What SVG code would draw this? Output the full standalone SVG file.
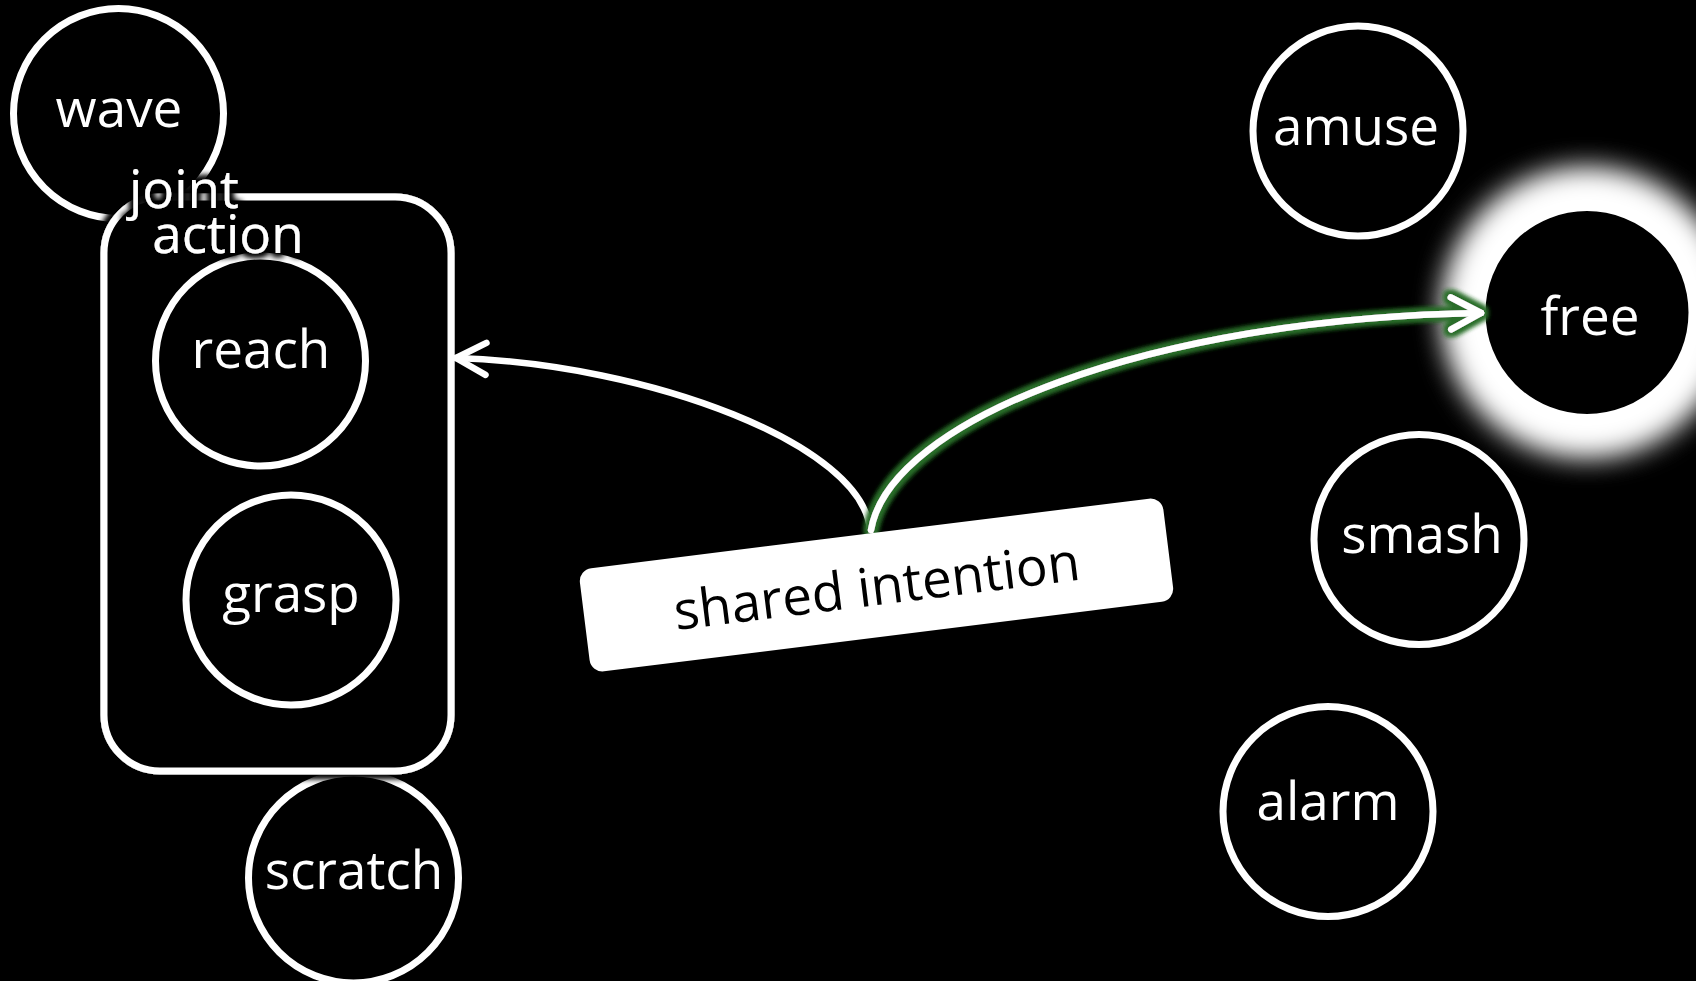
<svg xmlns="http://www.w3.org/2000/svg" width="1696" height="981" viewBox="0 0 1696 981">
  <style>
    .node { fill: #000; stroke: #fff; stroke-width: 7; }
    .lbl { font-family: "Open Sans", "Noto Sans", sans-serif; font-size: 53px; fill: #fff; text-anchor: middle; }
    .edge { fill: none; stroke: #fff; stroke-width: 6.5; stroke-linecap: round; }
    .group { fill: #000; stroke: #fff; stroke-width: 7; }
  </style>
  <defs>
    <filter id="halo" x="-20%" y="-20%" width="140%" height="140%">
      <feMorphology in="SourceAlpha" operator="dilate" radius="3" result="d"/>
      <feGaussianBlur in="d" stdDeviation="3" result="b"/>
      <feMerge><feMergeNode in="b"/><feMergeNode in="b"/><feMergeNode in="SourceGraphic"/></feMerge>
    </filter>
    <filter id="whiteGlow" x="-60%" y="-60%" width="220%" height="220%">
      <feGaussianBlur stdDeviation="16" result="b"/>
      <feMerge><feMergeNode in="b"/><feMergeNode in="b"/></feMerge>
    </filter>
    <filter id="greenGlow" x="-10%" y="-20%" width="120%" height="140%">
      <feMorphology in="SourceAlpha" operator="dilate" radius="3" result="d"/>
      <feGaussianBlur in="d" stdDeviation="2.5" result="b"/>
      <feFlood flood-color="#2a6e2a" result="c"/>
      <feComposite in="c" in2="b" operator="in" result="g"/>
      <feMerge><feMergeNode in="g"/><feMergeNode in="g"/><feMergeNode in="SourceGraphic"/></feMerge>
    </filter>
    <marker id="arrow" viewBox="-36 -20 40 40" refX="0" refY="0" markerWidth="40" markerHeight="40" markerUnits="userSpaceOnUse" orient="auto">
      <path d="M -30 -16 L 0 0 L -30 16" fill="none" stroke="#fff" stroke-width="6.5" stroke-linecap="round" stroke-linejoin="round"/>
    </marker>
  </defs>

  <rect x="0" y="0" width="1696" height="981" fill="#000"/>

  <g id="node-wave">
    <circle class="node" cx="118.5" cy="113.5" r="105"/>
    <text class="lbl" x="119" y="127">wave</text>
  </g>

  <g id="node-scratch">
    <circle class="node" cx="353.5" cy="878" r="105"/>
    <text class="lbl" x="354" y="889">scratch</text>
  </g>

  <g id="node-joint-action">
    <rect class="group" x="104" y="197" width="347" height="574" rx="56" ry="56" filter="url(#halo)"/>
    <g id="node-reach">
      <circle class="node" cx="260.5" cy="361" r="105"/>
      <text class="lbl" x="261" y="368">reach</text>
    </g>
    <g id="node-grasp">
      <circle class="node" cx="291" cy="600" r="105"/>
      <text class="lbl" x="291" y="612">grasp</text>
    </g>
    <g filter="url(#halo)">
      <text class="lbl" x="184" y="208">joint</text>
      <text class="lbl" x="228" y="253">action</text>
    </g>
  </g>

  <g id="node-amuse">
    <circle class="node" cx="1358" cy="131" r="105"/>
    <text class="lbl" x="1356" y="145">amuse</text>
  </g>

  <g id="node-free">
    <circle cx="1587" cy="312.5" r="138" fill="#fff" filter="url(#whiteGlow)"/>
    <circle class="node" cx="1587" cy="312.5" r="105"/>
    <text class="lbl" x="1590" y="335">free</text>
  </g>

  <g id="node-smash">
    <circle class="node" cx="1419" cy="539.5" r="105"/>
    <text class="lbl" x="1422" y="553">smash</text>
  </g>

  <g id="node-alarm">
    <circle class="node" cx="1328" cy="811.5" r="105"/>
    <text class="lbl" x="1328" y="820">alarm</text>
  </g>

  <g id="connectors">
    <path class="edge" d="M 870 530 C 863 445, 650 364, 456 358" marker-end="url(#arrow)"/>
    <g filter="url(#greenGlow)">
      <path class="edge" d="M 871 530 C 890 420, 1150 318, 1481 313" marker-end="url(#arrow)"/>
    </g>
  </g>

  <g id="node-shared-intention" transform="translate(876.5 585) rotate(-7.1)">
    <rect x="-294" y="-52" width="588" height="104" rx="13" ry="13" fill="#fff"/>
    <text x="0" y="20" font-family="Open Sans, Noto Sans, sans-serif" font-size="53" fill="#000" text-anchor="middle">shared intention</text>
  </g>
</svg>
